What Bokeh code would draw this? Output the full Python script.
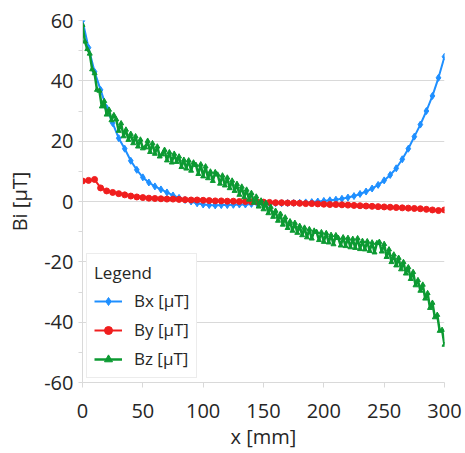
from bokeh.plotting import figure
from bokeh.models import Range1d, SingleIntervalTicker, Legend, LegendItem
from bokeh.embed import file_html
from bokeh.resources import INLINE

# ---- data ----
x5 = list(range(0, 301, 5))
bx = [60, 51, 43, 37, 31, 26, 21, 17.5, 13.5, 10.5, 8, 6.3, 5, 4, 3, 2, 1.2, 0.5, 0, -0.6,
      -1, -1.2, -1.3, -1.2, -1.2, -1.1, -1, -1, -0.8, -0.8, -0.7, -0.7, -0.6, -0.6, -0.5, -0.5,
      -0.4, -0.3, -0.2, 0, 0.2, 0.4, 0.6, 0.9, 1.3, 1.8, 2.5, 3.3, 4.3, 5.5, 7, 8.8, 11, 14,
      17.5, 21.5, 25.5, 30, 35, 41, 48]
by = [6.8, 7, 7.3, 4.5, 3.5, 3, 2.6, 2.2, 1.8, 1.5, 1.3, 1.1, 1, 0.9, 0.8, 0.8, 0.7, 0.6, 0.5,
      0.5, 0.4, 0.3, 0.2, 0.2, 0.1, 0.1, 0, 0, -0.1, -0.2, -0.2, -0.3, -0.4, -0.4, -0.5, -0.5,
      -0.6, -0.7, -0.7, -0.8, -0.9, -1, -1, -1.1, -1.2, -1.3, -1.4, -1.5, -1.6, -1.7, -1.8,
      -1.9, -2, -2.1, -2.2, -2.3, -2.4, -2.6, -2.8, -3, -2.8]
x2 = list(range(0, 301, 2))
bz = [58.5, 53, 50.5, 49, 43.8, 42.5, 37, 36.7, 31.5, 33.3,
      28.8, 30.4, 26.9, 28.6, 27.2, 23.4, 25.9, 21.6, 23.8, 20.4,
      22.4, 19.3, 21.6, 18.2, 20.5, 17.6, 17.9, 20.1, 16.4, 19.3,
      15.8, 18.2, 14.9, 15.6, 17.1, 13.6, 16.3, 12.9, 15.8, 13.1,
      14.9, 11.4, 13.8, 10.9, 13.6, 10.2, 12.9, 12.1, 9.1, 12.3,
      8.3, 11.6, 7.7, 9.9, 6.8, 9.7, 8.9, 5.9, 8.6, 5.3,
      7.9, 4.4, 6.9, 3.5, 5.8, 2.2, 4.9, 1.4, 3.9, 0.6,
      2.8, -0.4, 1.6, -1.7, 0.3, -2.6, -0.5, -3.9, -1.8, -5.1,
      -3.1, -6.4, -4.1, -7.7, -5.3, -8.8, -6.6, -9.7, -7.1, -10.4,
      -8.1, -11.2, -8.7, -11.9, -9.2, -12.3, -9.7, -10.1, -12.8, -10.2,
      -13.4, -10.5, -13.6, -11.1, -14.2, -11.2, -12.1, -14.6, -11.9, -14.8,
      -12.1, -15.2, -12.4, -15.4, -12.2, -15.8, -13.1, -15.9, -13.2, -16.4,
      -13.6, -16.9, -13.8, -13.4, -16.6, -14.1, -18.4, -15.9, -20.1, -17.6,
      -21.2, -18.7, -22.5, -20.1, -23.9, -21.8, -25.7, -23.4, -27.8, -26.1,
      -29.6, -27.6, -32.2, -30.4, -35.3, -33.6, -38.4, -37.6, -42.9, -42.6, -47.5]
series_names = ["Bx [µT]", "By [µT]", "Bz [µT]"]
x_ticks = [0, 50, 100, 150, 200, 250, 300]
y_ticks = [-60, -40, -20, 0, 20, 40, 60]

FONT = "Open Sans"
TXT = "#262626"
GRID = "#d9d9d9"

p = figure(width=465, height=453, output_backend="svg", toolbar_location=None,
           x_range=Range1d(0, 300), y_range=Range1d(-60, 60),
           min_border_left=82, min_border_right=21, min_border_top=20, min_border_bottom=71)
p.outline_line_color = None
p.background_fill_color = "white"
p.border_fill_color = "white"

c_bx, c_by, c_bz = "#1e8fff", "#f01e1e", "#0c9a32"
l1 = p.line(x5, bx, line_color=c_bx, line_width=2)
s1 = p.scatter(x5, bx, marker="diamond", size=7, color=c_bx)
l2 = p.line(x5, by, line_color=c_by, line_width=2)
s2 = p.scatter(x5, by, marker="circle", size=6, color=c_by)
l3 = p.line(x2, bz, line_color=c_bz, line_width=2.5)
s3 = p.scatter(x2, bz, marker="triangle", size=5, color=c_bz)

# axes
p.xaxis.ticker = x_ticks
p.yaxis.ticker = SingleIntervalTicker(interval=20, num_minor_ticks=2)
p.yaxis.major_label_overrides = {v: str(v) for v in y_ticks}
for ax in (p.xaxis[0], p.yaxis[0]):
    ax.axis_line_color = GRID
    ax.major_label_text_font = FONT
    ax.major_label_text_font_size = "20px"
    ax.major_label_text_color = TXT
    ax.axis_label_text_font = FONT
    ax.axis_label_text_font_size = "20px"
    ax.axis_label_text_font_style = "normal"
    ax.axis_label_text_color = TXT
p.xaxis.major_tick_line_color = GRID
p.xaxis.major_tick_out = 5
p.xaxis.major_tick_in = 0
p.xaxis.minor_tick_line_color = None
p.xaxis.major_label_standoff = 16
p.xaxis.axis_label = "x [mm]"
p.xaxis.axis_label_standoff = 2

p.yaxis.major_tick_line_color = None
p.yaxis.major_tick_out = 0
p.yaxis.minor_tick_line_color = GRID
p.yaxis.minor_tick_out = 4
p.yaxis.minor_tick_in = 0
p.yaxis.major_label_standoff = 5
p.yaxis.axis_label = "Bi [µT]"
p.yaxis.axis_label_standoff = 8

p.xgrid.grid_line_color = None
p.ygrid.grid_line_color = GRID
p.ygrid.grid_line_width = 1

legend = Legend(items=[LegendItem(label=series_names[0], renderers=[l1, s1]),
                       LegendItem(label=series_names[1], renderers=[l2, s2]),
                       LegendItem(label=series_names[2], renderers=[l3, s3])],
                location=(4, 4), title="Legend")
legend.title_text_font = FONT
legend.title_text_font_size = "17px"
legend.title_text_font_style = "normal"
legend.title_text_color = TXT
legend.title_standoff = 5
legend.label_text_font = FONT
legend.label_text_font_size = "17px"
legend.label_text_color = TXT
legend.glyph_width = 28
legend.glyph_height = 20
legend.label_height = 20
legend.spacing = 6
legend.label_standoff = 12
legend.padding = 7
legend.margin = 0
legend.border_line_color = GRID
legend.border_line_width = 1
legend.background_fill_color = "white"
legend.background_fill_alpha = 1
p.add_layout(legend, "center")

open("out.html", "w").write(file_html(p, INLINE))
